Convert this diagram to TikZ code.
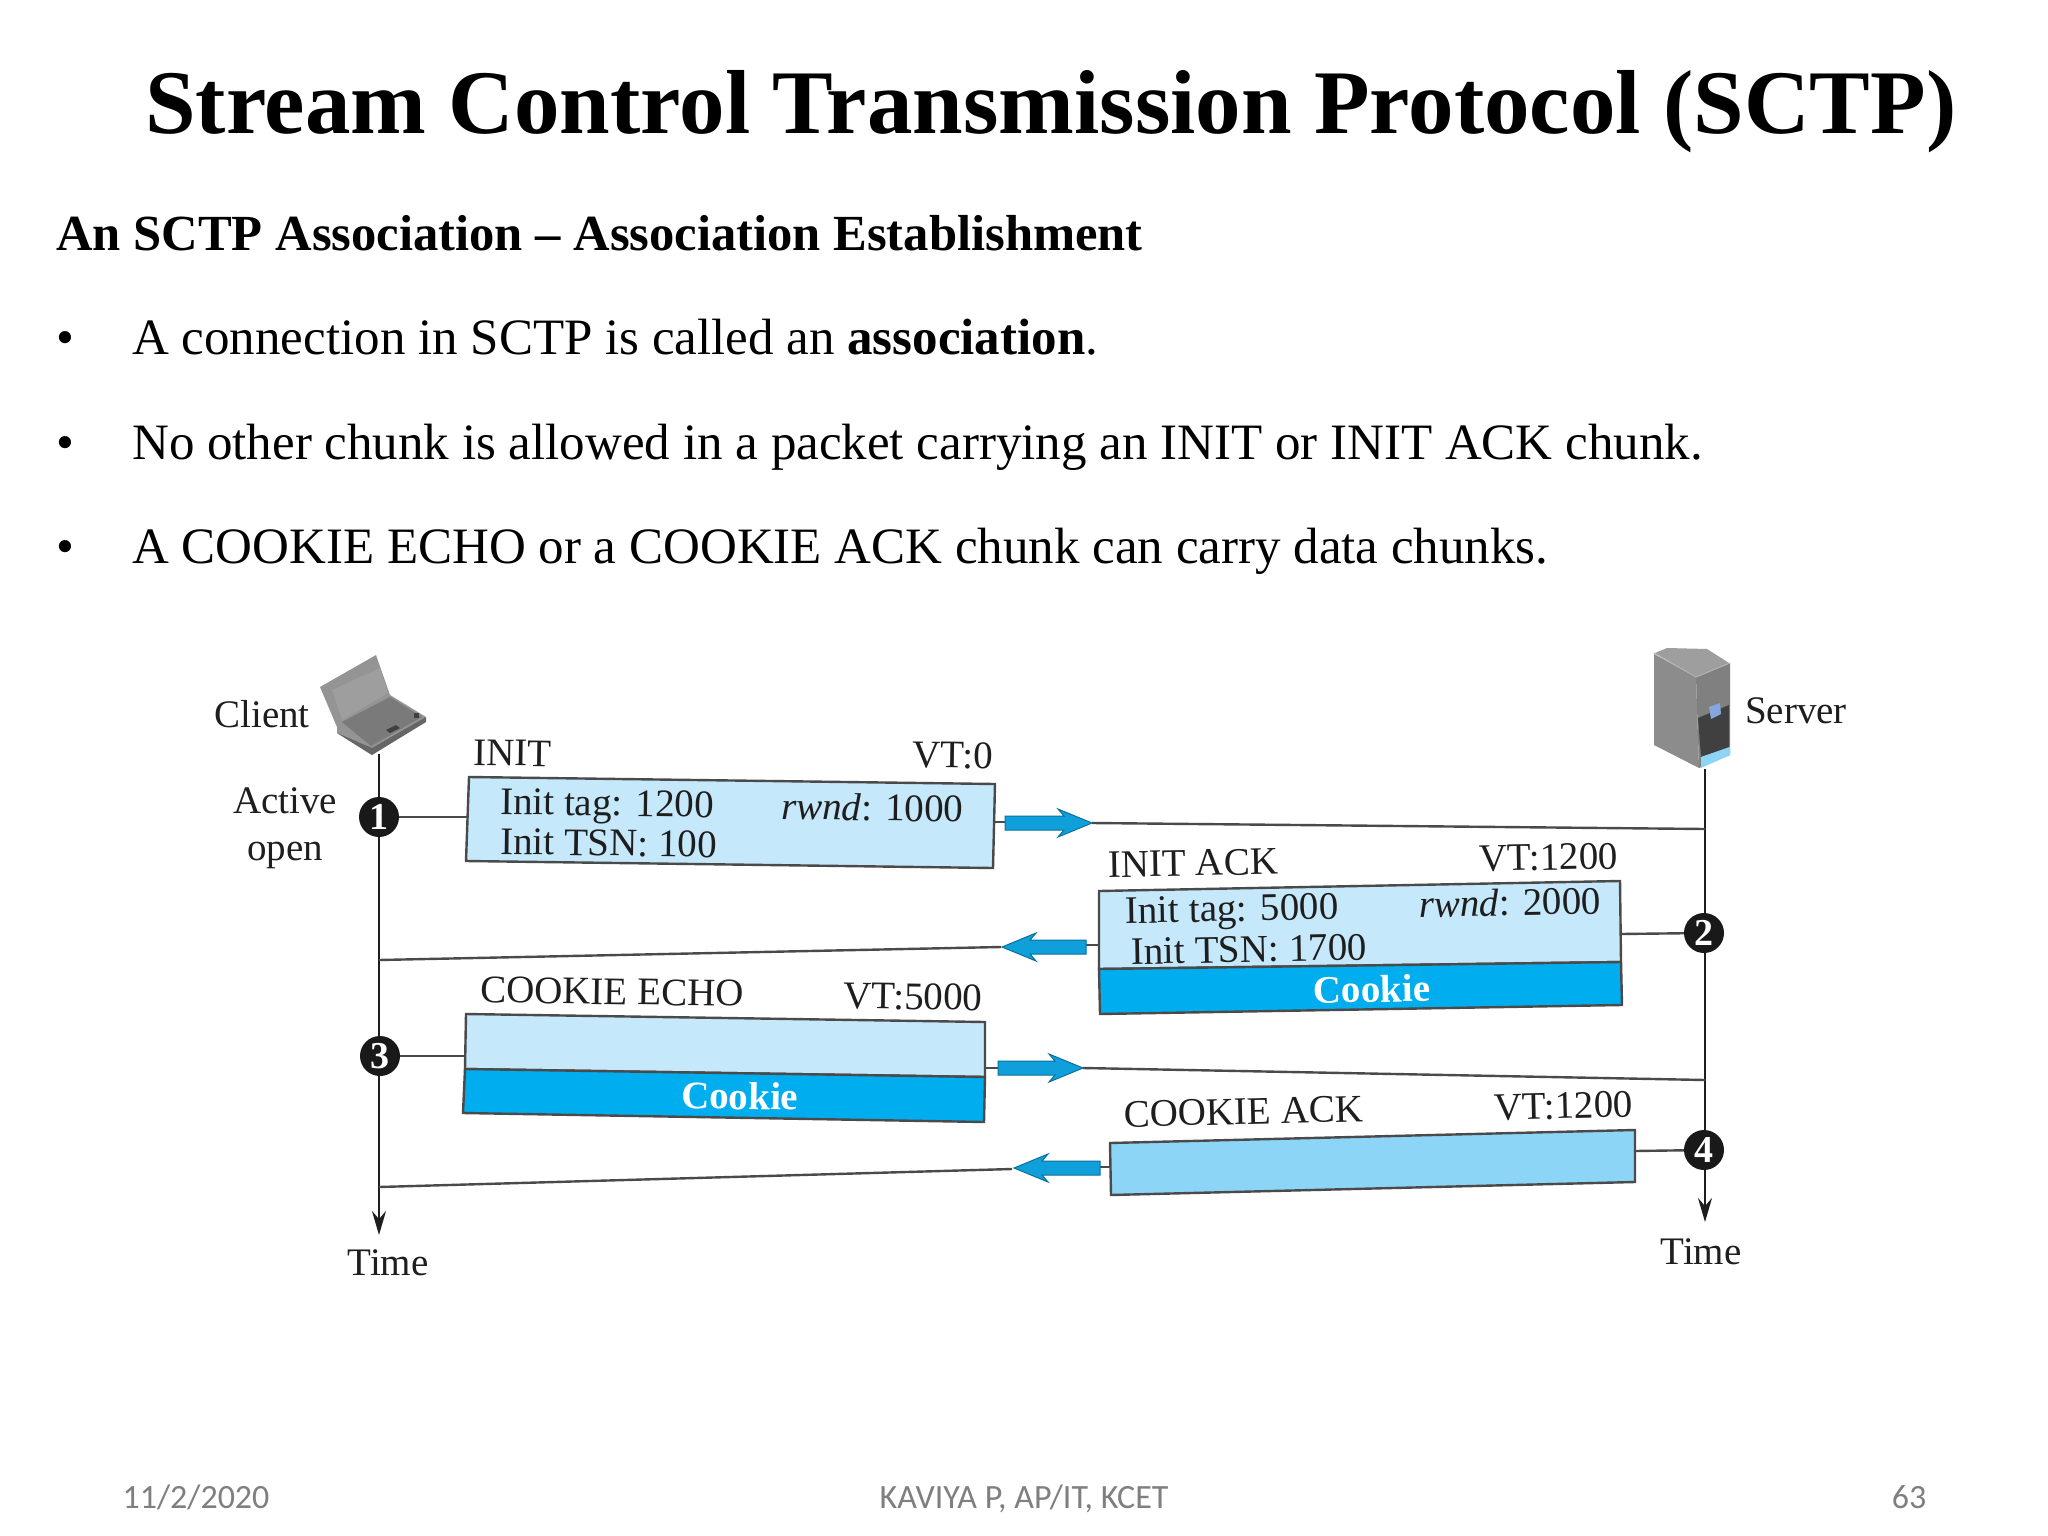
\documentclass[tikz,border=0pt]{standalone}
\usepackage{fontspec}
\setmainfont{Liberation Serif}
\newfontfamily\footfont{Carlito}
\usetikzlibrary{arrows.meta}
\definecolor{pale}{HTML}{C5E8FB}
\definecolor{deep}{HTML}{00AEEF}
\definecolor{mid}{HTML}{8DD5F6}
\definecolor{arrowblue}{HTML}{0FA0DC}
\definecolor{ink}{HTML}{1E1E1E}
\definecolor{rule}{HTML}{4A4A4A}
\definecolor{footgray}{HTML}{7F7F7F}
\newcommand{\fs}[1]{\fontsize{#1}{#1}\selectfont}
\newcommand{\blockarrow}[3]{%
  \pgfmathsetmacro{\dirn}{(#2>#1)?1:-1}
  \pgfmathsetmacro{\neck}{#2-\dirn*28}
  \pgfmathsetmacro{\barb}{#2-\dirn*34}
  \draw[arrowline] (#1,#3-7) -- (\neck,#3-7) -- (\barb,#3-14) -- (#2,#3) -- (\barb,#3+14) -- (\neck,#3+7) -- (#1,#3+7) -- cycle;}
\tikzset{
  x=1pt,y=-1pt,
  title/.style={anchor=base west,inner sep=0,font=\fs{90.9}\bfseries,text=black},
  heading/.style={anchor=base west,inner sep=0,font=\fs{50.6}\bfseries,text=black},
  body/.style={anchor=base west,inner sep=0,font=\fs{51},text=black},
  footer/.style={anchor=base,inner sep=0,font=\footfont\fs{34},text=footgray},
  label/.style={anchor=mid west,inner sep=0,font=\fs{39},text=ink},
  clabel/.style={anchor=center,inner sep=0,font=\fs{39},text=ink},
  cookie/.style={anchor=center,inner sep=0,font=\fs{39}\bfseries,text=white},
  stepdot/.style={circle,fill=black!90,minimum size=40pt,inner sep=0,text=white,font=\fs{38}\bfseries},
  timeline/.style={line width=2pt,draw=ink},
  timearrow/.style={line width=2pt,draw=ink,-{Stealth[length=24pt,width=14pt,inset=8pt]}},
  message/.style={line width=2.4pt,draw=rule},
  stub/.style={line width=2.4pt,draw=rule},
  arrowline/.style={fill=arrowblue,draw=arrowblue!70!black,line width=1pt},
  panelbox/.style={draw=rule,line width=2.4pt},
}
\begin{document}
\begin{tikzpicture}
\useasboundingbox[fill=white] (0,0) rectangle (2048,1536);

% Text above the diagram
\node[title] (ttl) at (145,134) {Stream Control Transmission Protocol (SCTP)};
\node[heading] (hd) at (56,250) {An SCTP Association – Association Establishment};
\node[body] (b1) at (56,354) {•};
\node[body] (t1) at (132,354) {A connection in SCTP is called an \textbf{association}.};
\node[body] (b2) at (56,459) {•};
\node[body] (t2) at (132,459) {No other chunk is allowed in a packet carrying an INIT or INIT ACK chunk.};
\node[body] (b3) at (56,563) {•};
\node[body] (t3) at (132,563) {A COOKIE ECHO or a COOKIE ACK chunk can carry data chunks.};

% Footer
\node[footer] (f1) at (196,1508) {11/2/2020};
\node[footer] (f2) at (1024,1508) {KAVIYA P, AP/IT, KCET};
\node[footer] (f3) at (1909,1508) {63};

% Anchors of the lifelines
\coordinate (cTop) at (379,754);
\coordinate (cEnd) at (379,1235);
\coordinate (sTop) at (1705,769);
\coordinate (sEnd) at (1705,1222);
\draw[timearrow] (cTop) -- (cEnd);
\draw[timearrow] (sTop) -- (sEnd);

% Message lines
\coordinate (m1a) at (1092,823); \coordinate (m1b) at (1705,829);
\coordinate (m2a) at (1001,947); \coordinate (m2b) at (379,960);
\coordinate (m3a) at (1083,1068); \coordinate (m3b) at (1705,1080);
\coordinate (m4a) at (1012,1169); \coordinate (m4b) at (379,1187);
\draw[message] (m1a) -- (m1b);
\draw[message] (m2a) -- (m2b);
\draw[message] (m3a) -- (m3b);
\draw[message] (m4a) -- (m4b);

% Steps
\node[stepdot] (s1) at (379,817) {1};
\node[stepdot] (s2) at (1704,933) {2};
\node[stepdot] (s3) at (380,1056) {3};
\node[stepdot] (s4) at (1704,1150) {4};

% Stubs
\coordinate (b1L) at (467,817);
\coordinate (b2R) at (1621,934);
\coordinate (b3L) at (465,1056);
\coordinate (b4R) at (1635,1151);
\draw[stub] (s1) -- (b1L);
\draw[stub] (s2) -- (b2R);
\draw[stub] (s3) -- (b3L);
\draw[stub] (s4) -- (b4R);
\coordinate (p1a) at (994,822); \coordinate (p1b) at (1006,822);
\coordinate (p2a) at (1100,945); \coordinate (p2b) at (1086,945);
\coordinate (p3a) at (985,1068); \coordinate (p3b) at (998,1068);
\coordinate (p4a) at (1110,1167); \coordinate (p4b) at (1100,1167);
\draw[stub] (p1a) -- (p1b);
\draw[stub] (p2a) -- (p2b);
\draw[stub] (p3a) -- (p3b);
\draw[stub] (p4a) -- (p4b);

% Panels
\draw[panelbox,fill=pale] (469,777) -- (995,784) -- (993,868) -- (466,861) -- cycle;
\draw[panelbox,fill=pale] (1099,891) -- (1620,881) -- (1621,962) -- (1099,969) -- cycle;
\draw[panelbox,fill=deep] (1099,969) -- (1621,962) -- (1622,1005) -- (1100,1014) -- cycle;
\draw[panelbox,fill=pale] (466,1014) -- (985,1022) -- (985,1077) -- (465,1069) -- cycle;
\draw[panelbox,fill=deep] (465,1069) -- (985,1077) -- (984,1122) -- (463,1113) -- cycle;
\draw[panelbox,fill=mid] (1110,1143) -- (1635,1130) -- (1635,1182) -- (1111,1195) -- cycle;

% Block arrows
\blockarrow{1005}{1092}{823}
\blockarrow{1086}{1002}{947}
\blockarrow{998}{1083}{1068}
\blockarrow{1100}{1014}{1168}

% Laptop
\fill[black!42] (376,655) -- (320,687) -- (337,727) -- (337,733) -- (372,755) -- (426,717) -- (390,695) -- cycle;
\fill[black!60] (337,733) -- (372,748) -- (426,717) -- (426,722) -- (372,755) -- cycle;
\fill[black!38] (332,690) -- (380,668) -- (388,693) -- (342,720) -- cycle;
\fill[black!52] (342,722) -- (390,697) -- (422,717) -- (371,746) -- cycle;
\fill[black!75] (386,730) -- (396,725) -- (400,728) -- (390,733) -- cycle;
\fill[black!75] (414,713) -- (419,713) -- (419,718) -- (414,718) -- cycle;

% Server
\fill[black!38] (1655,653) -- (1667,648) -- (1707,649) -- (1729,663) -- (1696,677) -- cycle;
\fill[black!45] (1654,654) -- (1696,677) -- (1699,768) -- (1654,745) -- cycle;
\fill[black!50] (1696,677) -- (1730,663) -- (1730,755) -- (1699,768) -- cycle;
\draw[white!70!black,line width=1pt] (1654,653) -- (1696,677) -- (1730,663);
\fill[black!75] (1698,718) -- (1729,705) -- (1729,747) -- (1701,757) -- cycle;
\fill[mid] (1701,757) -- (1730,747) -- (1730,755) -- (1701,768) -- cycle;
\fill[cyan!50!blue!50] (1709,707) -- (1720,703) -- (1721,714) -- (1711,719) -- cycle;

% Labels
\node[clabel] (client) at (262,714) {Client};
\node[clabel] (active) at (285,801) {Active};
\node[clabel] (openl) at (285,855) {open};
\node[clabel] (server) at (1796,711) {Server};
\node[clabel] (time1) at (388,1263) {Time};
\node[clabel] (time2) at (1701,1252) {Time};

\node[label,rotate=-0.8] (initl) at (473,763) {INIT};
\node[label,rotate=-0.8] (vt0) at (912,765) {VT:0};
\node[label,rotate=-0.8] (itag1) at (500,812) {Init tag: 1200};
\node[label,rotate=-0.8] (rw1) at (781,817) {\textit{rwnd}: 1000};
\node[label,rotate=-0.8] (tsn1) at (500,852) {Init TSN: 100};

\node[label,rotate=1.1] (ack) at (1108,875) {INIT ACK};
\node[label,rotate=1.1] (vt1) at (1479,869) {VT:1200};
\node[label,rotate=1.1] (itag2) at (1125,921) {Init tag: 5000};
\node[label,rotate=1.1] (rw2) at (1419,915) {\textit{rwnd}: 2000};
\node[label,rotate=1.1] (tsn2) at (1131,962) {Init TSN: 1700};
\node[cookie,rotate=1.1] (ck2) at (1372,989) {Cookie};

\node[label,rotate=-0.9] (echo) at (480,1000) {COOKIE ECHO};
\node[label,rotate=-0.9] (vt2) at (843,1006) {VT:5000};
\node[cookie,rotate=-0.9] (ck1) at (740,1096) {Cookie};

\node[label,rotate=1.4] (cack) at (1124,1125) {COOKIE ACK};
\node[label,rotate=1.4] (vt3) at (1494,1118) {VT:1200};
\end{tikzpicture}
\end{document}
